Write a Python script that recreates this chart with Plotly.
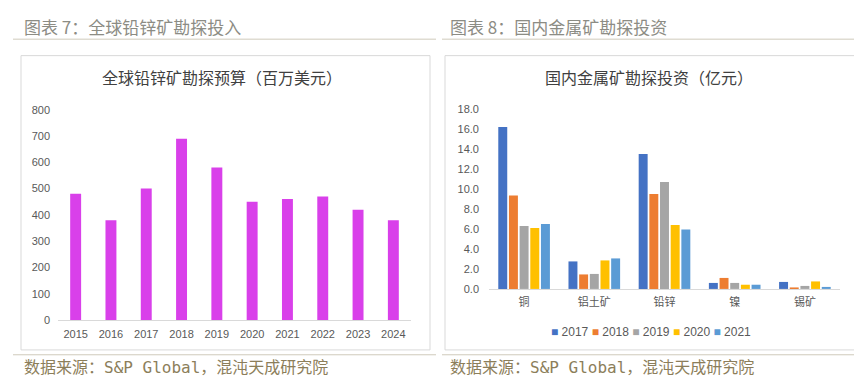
import plotly.graph_objects as go

W, H = 862, 376

# ---- data: left chart ----
years = ["2015", "2016", "2017", "2018", "2019", "2020", "2021", "2022", "2023", "2024"]
budget = [480, 380, 500, 690, 580, 450, 460, 470, 420, 380]

# ---- data: right chart ----
metals = ["铜", "铝土矿", "铅锌", "镍", "锡矿"]
series_names = ["2017", "2018", "2019", "2020", "2021"]
v2017 = [16.2, 2.75, 13.5, 0.6, 0.7]
v2018 = [9.35, 1.45, 9.5, 1.1, 0.15]
v2019 = [6.3, 1.5, 10.7, 0.6, 0.3]
v2020 = [6.1, 2.85, 6.4, 0.42, 0.75]
v2021 = [6.5, 3.05, 5.95, 0.42, 0.2]
series_values = [v2017, v2018, v2019, v2020, v2021]
series_colors = ["#4472C4", "#ED7D31", "#A5A5A5", "#FFC000", "#5B9BD5"]

def px(x):
    return x / W

def py(y):
    return 1 - y / H

fig = go.Figure()

fig.add_trace(go.Bar(
    x=years, y=budget, xaxis="x", yaxis="y",
    marker=dict(color="#D940EA", line=dict(width=0)),
    width=0.31, offset=-0.155, showlegend=False,
))

for name, vals, col in zip(series_names, series_values, series_colors):
    fig.add_trace(go.Bar(
        x=metals, y=vals, name=name, xaxis="x2", yaxis="y2",
        marker=dict(color=col, line=dict(width=0)), showlegend=False,
    ))

tickfont = dict(family="Arial, Liberation Sans, sans-serif", size=11, color="#595959")
cjkfont = dict(family="Noto Sans CJK SC", size=11, color="#595959")

fig.update_layout(
    width=W, height=H,
    margin=dict(l=0, r=0, t=0, b=0),
    paper_bgcolor="white", plot_bgcolor="white",
    barmode="group", bargap=0.24, bargroupgap=0.16,
    xaxis=dict(domain=[px(50), px(403)], anchor="y", type="category",
               range=[-0.5, 9.5], showline=True, linecolor="#D9D9D9", linewidth=1,
               ticks="", showgrid=False, tickfont=tickfont, fixedrange=True,
               ticklabelstandoff=4),
    yaxis=dict(domain=[py(316), py(99)], anchor="x", range=[0, 800], dtick=100,
               showgrid=False, showline=False, zeroline=False, ticks="",
               tickfont=tickfont, fixedrange=True, ticklabelstandoff=7),
    xaxis2=dict(domain=[px(481), px(832)], anchor="y2", type="category",
                range=[-0.5, 4.5], showline=True, linecolor="#D9D9D9", linewidth=1,
                ticks="", showgrid=False, tickfont=cjkfont, fixedrange=True,
                ticklabelstandoff=3),
    yaxis2=dict(domain=[py(284), py(98)], anchor="x2", range=[0, 18], dtick=2,
                tickformat=".1f", showgrid=False, showline=False, zeroline=False,
                ticks="", tickfont=tickfont, fixedrange=True, ticklabelstandoff=9),
)

shapes = []
line_col = "#CFCABB"
# header separators
shapes.append(dict(type="line", xref="paper", yref="paper", x0=px(5), x1=px(428), y0=py(26), y1=py(26),
                   line=dict(color=line_col, width=1)))
shapes.append(dict(type="line", xref="paper", yref="paper", x0=px(434), x1=px(848), y0=py(26), y1=py(26),
                   line=dict(color=line_col, width=1)))
# footer separators
shapes.append(dict(type="line", xref="paper", yref="paper", x0=px(5), x1=px(428), y0=py(352), y1=py(352),
                   line=dict(color=line_col, width=1)))
shapes.append(dict(type="line", xref="paper", yref="paper", x0=px(434), x1=px(856), y0=py(352), y1=py(352),
                   line=dict(color=line_col, width=1)))
# chart boxes
shapes.append(dict(type="rect", xref="paper", yref="paper", x0=px(13), x1=px(422), y0=py(347), y1=py(43),
                   line=dict(color="#D9D9D9", width=1), layer="below"))
shapes.append(dict(type="rect", xref="paper", yref="paper", x0=px(437), x1=px(850), y0=py(347), y1=py(43),
                   line=dict(color="#D9D9D9", width=1), layer="below"))

header_font = dict(family="Noto Sans CJK SC", size=17, color="#8C8C84")
footer_font = dict(family="DejaVu Sans Mono, Noto Sans CJK SC", size=16, color="#8C7E5A")
title_font = dict(family="Noto Sans CJK SC", size=16, color="#404040")

ann = []
ann.append(dict(text="图表 7：全球铅锌矿勘探投入", x=px(14), y=py(13), xref="paper", yref="paper",
                xanchor="left", yanchor="middle", showarrow=False, font=header_font))
ann.append(dict(text="图表 8：国内金属矿勘探投资", x=px(440), y=py(13), xref="paper", yref="paper",
                xanchor="left", yanchor="middle", showarrow=False, font=header_font))
ann.append(dict(text="数据来源：S&P Global，混沌天成研究院", x=px(14), y=py(365), xref="paper", yref="paper",
                xanchor="left", yanchor="middle", showarrow=False, font=footer_font))
ann.append(dict(text="数据来源：S&P Global，混沌天成研究院", x=px(440), y=py(365), xref="paper", yref="paper",
                xanchor="left", yanchor="middle", showarrow=False, font=footer_font))
ann.append(dict(text="全球铅锌矿勘探预算（百万美元）", x=px(214), y=py(65), xref="paper", yref="paper",
                xanchor="center", yanchor="middle", showarrow=False, font=title_font))
ann.append(dict(text="国内金属矿勘探投资（亿元）", x=px(641), y=py(65), xref="paper", yref="paper",
                xanchor="center", yanchor="middle", showarrow=False, font=title_font))

legend_text = " ".join(
    f"<span style='color:{c}'>■</span> {n}" for n, c in zip(series_names, series_colors)
)
ann.append(dict(text=legend_text, x=px(643), y=py(328), xref="paper", yref="paper",
                xanchor="center", yanchor="middle", showarrow=False,
                font=dict(family="Arial, Liberation Sans, sans-serif", size=12, color="#595959")))

fig.update_layout(shapes=shapes, annotations=ann)

fig.write_html("out.html")
